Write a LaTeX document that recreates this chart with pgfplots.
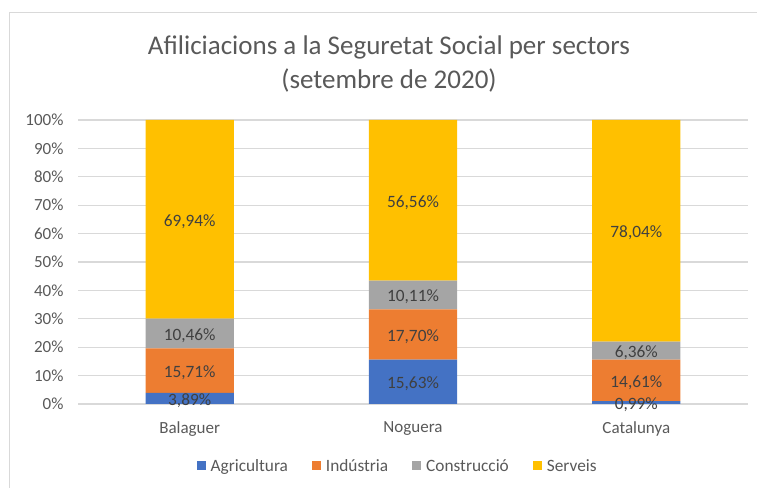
\documentclass[border=0pt]{standalone}
\usepackage{pgfplots}
\pgfplotsset{compat=1.18}
\usepackage{fontspec}
\setmainfont{Carlito}
\definecolor{agri}{HTML}{4472C4}
\definecolor{ind}{HTML}{ED7D31}
\definecolor{cons}{HTML}{A5A5A5}
\definecolor{serv}{HTML}{FFC000}
\definecolor{txt}{HTML}{595959}
\definecolor{lbl}{HTML}{404040}
\definecolor{gridc}{HTML}{D9D9D9}
\pgfplotsset{
  common/.style={
    at={(78bp,84bp)}, anchor=south west,
    scale only axis, width=670bp, height=284bp,
    xmin=-0.5, xmax=2.5, ymin=0, ymax=100,
    /pgf/number format/assume math mode=true,
  }
}
\begin{document}
\begin{tikzpicture}[x=1bp,y=1bp]
\path[use as bounding box] (0,0) rectangle (757,488);
\draw[gridc, line width=1.2bp] (9.5,0) -- (9.5,475.5) -- (757,475.5);
\node[text=txt, font=\fontsize{27bp}{34bp}\selectfont, align=center] at (389,424)
  {Afiliciacions a la Seguretat Social per sectors\\(setembre de 2020)};
\begin{axis}[common,
  ybar stacked, bar width=0.395,
  xtick={0,1,2}, xticklabels={Balaguer,Noguera,Catalunya},
  ytick={0,10,...,100},
  yticklabel={\pgfmathprintnumber[fixed]{\tick}\%},
  axis line style={draw=none},
  major tick length=0pt,
  ymajorgrids, grid style={gridc, line width=1.2bp},
  ticklabel style={text=txt, font=\fontsize{17bp}{20bp}\selectfont},
  yticklabel style={xshift=-11bp},
  xticklabel style={yshift=-14bp},
  legend columns=4,
  legend style={at={(0.477,-0.2183)}, anchor=center, draw=none, fill=none,
    font=\fontsize{17.3bp}{20bp}\selectfont, text=txt,
    /tikz/every even column/.append style={column sep=22bp}},
  legend image code/.code={\fill[#1] (0bp,-4.5bp) rectangle (9bp,4.5bp); \path (12bp,0);},
]
\addplot[fill=agri, draw=none] coordinates {(0,3.89) (1,15.63) (2,0.99)};
\addlegendentry{Agricultura}
\addplot[fill=ind, draw=none] coordinates {(0,15.71) (1,17.70) (2,14.61)};
\addlegendentry{Indústria}
\addplot[fill=cons, draw=none] coordinates {(0,10.46) (1,10.11) (2,6.36)};
\addlegendentry{Construcció}
\addplot[fill=serv, draw=none] coordinates {(0,69.94) (1,56.56) (2,78.04)};
\addlegendentry{Serveis}
\end{axis}
\begin{axis}[common, hide axis]
\addplot[draw=none, point meta=explicit,
  nodes near coords={\pgfmathprintnumber[use comma,fixed,fixed zerofill,precision=2]{\pgfplotspointmeta}\%},
  every node near coord/.style={anchor=center, yshift=-2bp, text=lbl, font=\fontsize{17.3bp}{20bp}\selectfont}]
  coordinates {
  (0,1.945) [3.89] (0,11.745) [15.71] (0,24.83) [10.46] (0,65.03) [69.94]
  (1,7.815) [15.63] (1,24.48) [17.70] (1,38.385) [10.11] (1,71.72) [56.56]
  (2,0.495) [0.99] (2,8.295) [14.61] (2,18.78) [6.36] (2,60.98) [78.04]
  };
\end{axis}
\end{tikzpicture}
\end{document}
